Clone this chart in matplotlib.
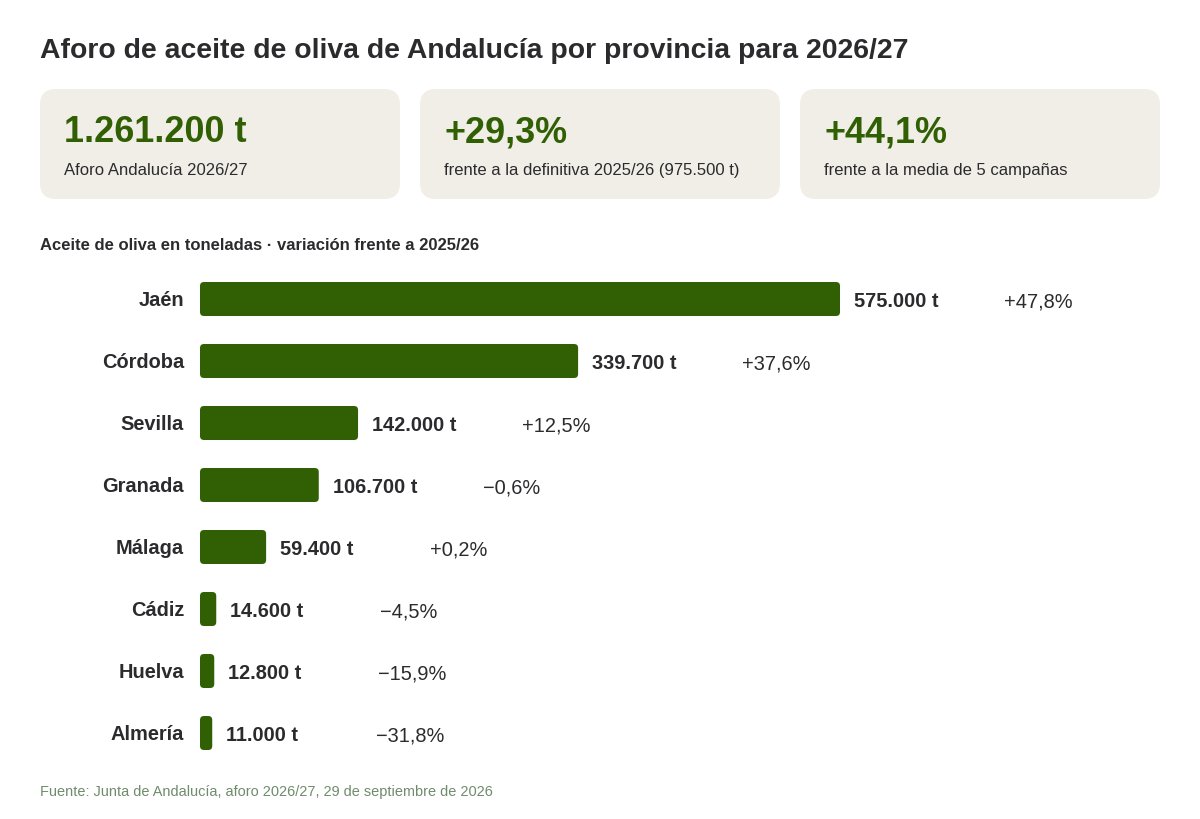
import matplotlib
matplotlib.use("Agg")
import matplotlib.pyplot as plt
from matplotlib.patches import FancyBboxPatch

plt.rcParams['font.family'] = ['Liberation Sans', 'DejaVu Sans']

# ---- data ----
titulo = "Aforo de aceite de oliva de Andalucía por provincia para 2026/27"
subtitulo = "Aceite de oliva en toneladas · variación frente a 2025/26"
fuente = "Fuente: Junta de Andalucía, aforo 2026/27, 29 de septiembre de 2026"

provincias = ['Jaén', 'Córdoba', 'Sevilla', 'Granada', 'Málaga', 'Cádiz', 'Huelva', 'Almería']
toneladas = [575000, 339700, 142000, 106700, 59400, 14600, 12800, 11000]
variacion = [47.8, 37.6, 12.5, -0.6, 0.2, -4.5, -15.9, -31.8]

card_values = ['1.261.200 t', '+29,3%', '+44,1%']
card_labels = ['Aforo Andalucía 2026/27',
               'frente a la definitiva 2025/26 (975.500 t)',
               'frente a la media de 5 campañas']

# ---- style ----
GREEN = '#316004'
DARK = '#2b2b2e'
CARD = '#f1eee7'
FOOT = '#6f8c6c'
W, H = 1200, 820

def pt(px):
    return px * 0.72

def fmt_t(v):
    return f"{v:,}".replace(',', '.') + ' t'

def fmt_pct(v):
    s = f"{abs(v):.1f}".replace('.', ',')
    return ('+' if v >= 0 else '\u2212') + s + '%'

fig = plt.figure(figsize=(W / 100, H / 100), dpi=100)
fig.patch.set_facecolor('white')

# overlay axes in pixel coordinates
ov = fig.add_axes([0, 0, 1, 1])
ov.set_xlim(0, W)
ov.set_ylim(H, 0)
ov.axis('off')

ov.text(40, 58.5, titulo, fontsize=pt(28.45), fontweight='bold', color=DARK,
        ha='left', va='baseline')

card_x = [40, 420, 800]
for cx, val, lab in zip(card_x, card_values, card_labels):
    ov.add_patch(FancyBboxPatch((cx, 90), 360, 110,
                                boxstyle="round,pad=0,rounding_size=16",
                                facecolor=CARD, edgecolor='none'))
    ov.text(cx + 24, 142, val, fontsize=pt(36), fontweight='bold', color=GREEN,
            ha='left', va='baseline')
    ov.text(cx + 24, 175, lab, fontsize=pt(16.6), color=DARK,
            ha='left', va='baseline')

ov.text(40, 250, subtitulo, fontsize=pt(16.6), fontweight='bold', color=DARK,
        ha='left', va='baseline')
ov.text(40, 796, fuente, fontsize=pt(14.5), color=FOOT, ha='left', va='baseline')

# bar axes
left_px, right_px = 200, 1160
top_px, row_h = 269, 62
n = len(provincias)
ax = fig.add_axes([left_px / W, 1 - (top_px + n * row_h) / H,
                   (right_px - left_px) / W, n * row_h / H])
ax.set_facecolor('none')
xmax = toneladas[0] * (right_px - left_px) / 640
ax.set_xlim(0, xmax)
ax.set_ylim(n - 0.5, -0.5)
ax.axis('off')

xu = xmax / (right_px - left_px)
yu = n / (n * row_h)
bar_h = 34 / row_h
for i, (p, v, d) in enumerate(zip(provincias, toneladas, variacion)):
    ax.add_patch(FancyBboxPatch((0, i - bar_h / 2), v, bar_h,
                                boxstyle=f"round,pad=0,rounding_size={4 * xu}",
                                mutation_aspect=yu / xu,
                                facecolor=GREEN, edgecolor='none'))
    ax.annotate(p, xy=(0, i), xytext=(-16, -5.5), textcoords='offset pixels',
                ha='right', va='baseline', fontsize=pt(20), fontweight='bold',
                color=DARK)
    ax.annotate(fmt_t(v), xy=(v, i), xytext=(14, -7), textcoords='offset pixels',
                ha='left', va='baseline', fontsize=pt(20), fontweight='bold',
                color=DARK)
    ax.annotate(fmt_pct(d), xy=(v, i), xytext=(164, -7), textcoords='offset pixels',
                ha='left', va='baseline', fontsize=pt(20), color=DARK)

fig.savefig('out.png', dpi=100, facecolor='white')
